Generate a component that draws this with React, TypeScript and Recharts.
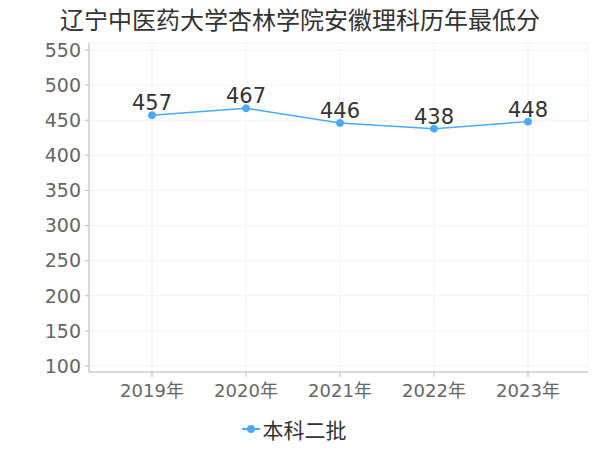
import React from "react";
import {
  LineChart,
  Line,
  XAxis,
  YAxis,
  CartesianGrid,
  Legend,
  LabelList,
} from "recharts";

const categories = ["2019年", "2020年", "2021年", "2022年", "2023年"];
const scores = [457, 467, 446, 438, 448];
const yTicks = [100, 150, 200, 250, 300, 350, 400, 450, 500, 550];
const seriesName = "本科二批";
const title = "辽宁中医药大学杏林学院安徽理科历年最低分";

const data = categories.map((c, i) => ({ year: c, value: scores[i] }));

const FONT = "'DejaVu Sans', 'Noto Sans CJK SC', sans-serif";
const LINE_COLOR = "#4aa8ff";

const LegendContent = () => (
  <div
    style={{
      display: "flex",
      justifyContent: "center",
      alignItems: "center",
      fontFamily: FONT,
      fontSize: 21,
      color: "#333",
      paddingTop: 6,
    }}
  >
    <svg width={18} height={12} style={{ marginRight: 3 }}>
      <line x1={0} y1={6} x2={18} y2={6} stroke={LINE_COLOR} strokeWidth={2} />
      <circle cx={9} cy={6} r={4} fill={LINE_COLOR} />
    </svg>
    <span>{seriesName}</span>
  </div>
);

export default function App() {
  return (
    <div
      style={{
        position: "absolute",
        left: 0,
        top: 0,
        width: 600,
        height: 450,
        background: "#fff",
      }}
    >
      <div
        style={{
          position: "absolute",
          left: 0,
          top: 4,
          width: 600,
          textAlign: "center",
          fontFamily: "'Noto Sans CJK SC', sans-serif",
          fontSize: 24,
          color: "#333",
          lineHeight: "30px",
        }}
      >
        {title}
      </div>
      <LineChart
        width={600}
        height={450}
        data={data}
        margin={{ top: 43, right: 12, left: 0, bottom: 0 }}
      >
        <CartesianGrid stroke="#f2f2f2" strokeWidth={1} />
        <XAxis
          dataKey="year"
          padding={{ left: 63, right: 60 }}
          stroke="#bbb"
          tickSize={5}
          tick={{ fill: "#666", fontSize: 18, fontFamily: FONT }}
          tickMargin={7}
          height={36}
        />
        <YAxis
          domain={[100, 550]}
          ticks={yTicks}
          interval={0}
          width={89}
          padding={{ top: 7, bottom: 6 }}
          stroke="#bbb"
          tickSize={4}
          tickMargin={4}
          tick={{ fill: "#666", fontSize: 19, fontFamily: FONT }}
        />
        <Legend
          verticalAlign="bottom"
          height={42}
          content={<LegendContent />}
        />
        <Line
          type="linear"
          dataKey="value"
          name={seriesName}
          stroke={LINE_COLOR}
          strokeWidth={1.5}
          dot={{ r: 3.5, fill: LINE_COLOR, stroke: LINE_COLOR, strokeWidth: 1 }}
          isAnimationActive={false}
        >
          <LabelList
            dataKey="value"
            position="top"
            offset={5}
            style={{ fill: "#333", fontSize: 21, fontFamily: FONT }}
          />
        </Line>
      </LineChart>
    </div>
  );
}
